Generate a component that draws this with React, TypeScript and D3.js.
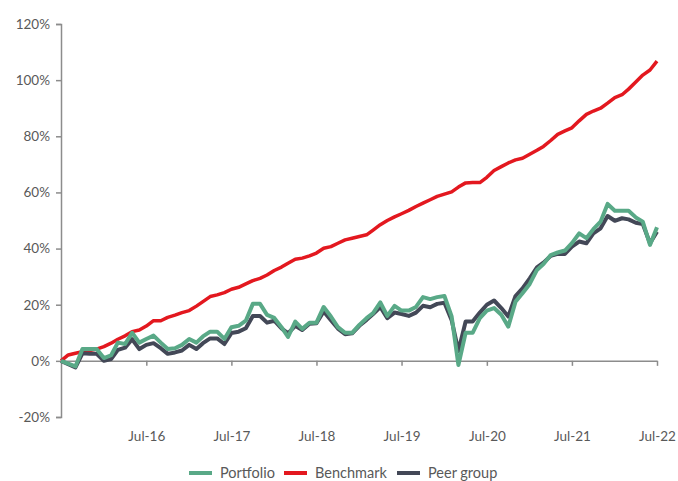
import React, { useEffect, useRef } from "react";
import * as d3 from "d3";

// monthly, Jul-15 .. Jul-22 (cumulative return, %)
const portfolio = [
  0, -1, -2, 4.2, 4.2, 4.2, 1, 2, 6.5, 6, 10, 6.5, 7.8, 9, 6.5, 4.2, 4.5, 5.7,
  7.8, 6.5, 8.7, 10.4, 10.4, 7.8, 12, 12.5, 14.3, 20.3, 20.3, 16.4, 15.3, 12,
  8.5, 14, 11.4, 13.6, 13.6, 19.2, 15.8, 12, 10, 10, 12.8, 15.2, 17, 20.8, 16,
  19.6, 17.9, 17.9, 19.2, 22.7, 22, 22.7, 23.1, 15.8, -1.5, 10, 10, 15.2, 17.9,
  18.8, 16.4, 12.2, 21.1, 24.1, 27.4, 32.4, 34.5, 37.7, 38.6, 39.3, 41.9, 45.4,
  43.7, 46.9, 49.6, 55.9, 53.5, 53.5, 53.5, 51.1, 49.6, 41.3, 47.6,
];

const benchmark = [
  0, 2.1, 2.7, 3.3, 3.7, 4.2, 5.1, 6.3, 7.7, 8.9, 10.4, 11, 12.4, 14.3, 14.3,
  15.5, 16.3, 17.2, 17.9, 19.5, 21.1, 22.9, 23.5, 24.3, 25.5, 26.2, 27.4, 28.6,
  29.4, 30.6, 32.2, 33.4, 34.8, 36.2, 36.6, 37.4, 38.4, 40.1, 40.7, 41.9, 43.1,
  43.7, 44.3, 44.9, 46.6, 48.5, 50, 51.3, 52.4, 53.6, 55, 56.2, 57.4, 58.6,
  59.4, 60.2, 61.9, 63.4, 63.5, 63.5, 65.4, 67.8, 69.2, 70.5, 71.6, 72.2, 73.6,
  75, 76.4, 78.5, 80.7, 81.9, 83, 85.5, 87.8, 89, 90, 91.8, 93.8, 94.8, 96.8,
  99.3, 101.8, 103.6, 106.8,
];

const peerGroup = [
  0, -1.2, -2.3, 2.7, 2.5, 2.5, 0, 0.6, 3.9, 4.7, 7.7, 4.2, 5.7, 6.3, 4.5, 2.5,
  3, 3.7, 5.7, 4.2, 6.3, 8, 8, 6, 9.9, 10.4, 11.6, 16, 16, 13.6, 14.3, 11.6,
  9.8, 12.5, 11, 13.2, 13.4, 17.6, 14.5, 11.5, 9.5, 9.8, 12.5, 14.6, 16.7, 19.2,
  15.2, 17.2, 16.7, 16, 17.2, 19.6, 19.1, 20.3, 20.7, 14.5, 3.5, 14, 14, 17.2,
  20, 21.5, 18.8, 15.8, 23.1, 25.8, 29.4, 33.3, 35, 37.4, 38.1, 38.1, 40.7,
  42.5, 41.9, 45.4, 47.2, 51.6, 49.9, 50.8, 50.4, 49.2, 48.7, 41.9, 46,
];

const yTicks = [-20, 0, 20, 40, 60, 80, 100, 120];
const xTickYears = [2016, 2017, 2018, 2019, 2020, 2021, 2022];

const series = [
  { name: "Benchmark", values: benchmark, color: "#e3181f" },
  { name: "Peer group", values: peerGroup, color: "#434857" },
  { name: "Portfolio", values: portfolio, color: "#59a987" },
];
const legendOrder = ["Portfolio", "Benchmark", "Peer group"];

const W = 678;
const H = 481;

export default function App() {
  const ref = useRef<SVGSVGElement>(null);

  useEffect(() => {
    const svg = d3.select(ref.current);
    svg.selectAll("*").remove();

    const left = 61,
      right = 657,
      top = 24,
      bottom = 417;
    const font = "Lato, 'Open Sans', sans-serif";
    const textColor = "#595959";
    const axisColor = "#8c8c8c";

    const start = new Date(2015, 6, 1);
    const dates = portfolio.map((_, i) => d3.timeMonth.offset(start, i));

    const x = d3
      .scaleTime()
      .domain([dates[0], dates[dates.length - 1]])
      .range([left, right]);
    const y = d3.scaleLinear().domain([-20, 120]).range([bottom, top]);

    // y axis
    const yAxis = svg
      .append("g")
      .attr("transform", `translate(${left},0)`)
      .call(
        d3
          .axisLeft(y)
          .tickValues(yTicks)
          .tickSize(5)
          .tickPadding(6)
          .tickFormat((d) => `${d}%`)
      );
    yAxis.select(".domain").attr("stroke", axisColor).attr("stroke-width", 1.5);
    yAxis.selectAll(".tick line").attr("stroke", axisColor).attr("stroke-width", 1.5);
    yAxis
      .selectAll(".tick text")
      .attr("fill", textColor)
      .attr("font-family", font)
      .attr("font-size", 13.5);

    // x axis at 0%
    const xAxis = svg
      .append("g")
      .attr("transform", `translate(0,${y(0)})`)
      .call(
        d3
          .axisBottom(x)
          .tickValues(xTickYears.map((yr) => new Date(yr, 6, 1)))
          .tickSize(5)
          .tickSizeOuter(0)
          .tickPadding(66)
          .tickFormat((d) => d3.timeFormat("%b-%y")(d as Date))
      );
    xAxis.select(".domain").attr("stroke", axisColor).attr("stroke-width", 1.5);
    xAxis.selectAll(".tick line").attr("stroke", axisColor).attr("stroke-width", 1.5);
    xAxis
      .selectAll(".tick text")
      .attr("fill", textColor)
      .attr("font-family", font)
      .attr("font-size", 13.5);

    const line = d3
      .line<number>()
      .x((_, i) => x(dates[i]))
      .y((d) => y(d));

    series.forEach((s) => {
      svg
        .append("path")
        .datum(s.values)
        .attr("d", line)
        .attr("fill", "none")
        .attr("stroke", s.color)
        .attr("stroke-width", s.name === "Benchmark" ? 3.5 : 4)
        .attr("stroke-linejoin", "round");
    });

    // legend
    const legendX = [189, 284, 397];
    const legend = svg.append("g").attr("transform", "translate(0,473)");
    legendOrder.forEach((name, i) => {
      const s = series.find((d) => d.name === name)!;
      legend
        .append("line")
        .attr("x1", legendX[i])
        .attr("x2", legendX[i] + 23)
        .attr("stroke", s.color)
        .attr("stroke-width", 4);
      legend
        .append("text")
        .attr("x", legendX[i] + 31)
        .attr("dy", "0.35em")
        .attr("fill", textColor)
        .attr("font-family", font)
        .attr("font-size", 14.5)
        .text(name);
    });
  }, []);

  return (
    <svg
      ref={ref}
      width={W}
      height={H}
      style={{ display: "block", position: "absolute", left: 0, top: 0, background: "#fff" }}
    />
  );
}
